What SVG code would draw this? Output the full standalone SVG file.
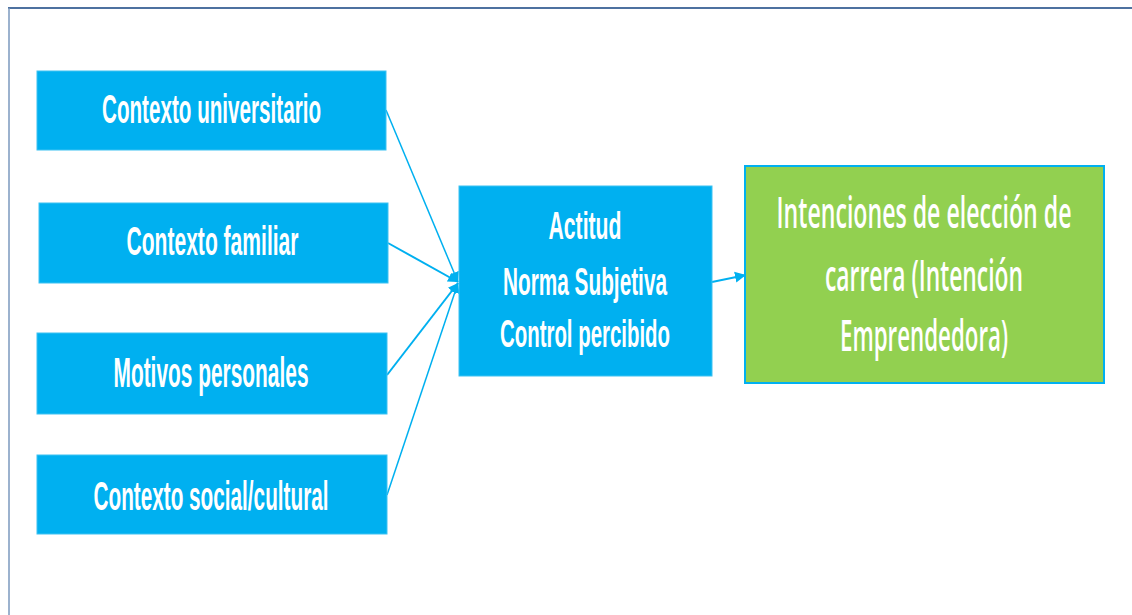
<svg xmlns="http://www.w3.org/2000/svg" width="1132" height="615" viewBox="0 0 1132 615">
<style>
.bx{fill:#00B0F0;stroke:#3DC2F2;stroke-width:1}
.gr{fill:#92D050;stroke:#00B0F0;stroke-width:2}
.t{fill:#FFFFFF;font-family:"Liberation Sans Narrow","Liberation Sans",Arial,sans-serif;font-weight:bold;text-anchor:middle}
.tg{fill:#FFFFFF;font-family:"Open Sans","Liberation Sans",Arial,sans-serif;font-weight:600;text-anchor:middle}
.c{stroke:#00B0F0;fill:none}
</style>
<defs>
<marker id="ah" viewBox="0 0 10 10" refX="10" refY="5" markerWidth="10" markerHeight="12" markerUnits="userSpaceOnUse" orient="auto">
<path d="M0,0 L10,5 L0,10 Z" fill="#00B0F0"/>
</marker>
<marker id="ah2" viewBox="0 0 10 10" refX="10" refY="5" markerWidth="11" markerHeight="15" markerUnits="userSpaceOnUse" orient="auto">
<path d="M0,0 L10,5 L0,10 Z" fill="#00B0F0"/>
</marker>
</defs>
<rect x="0" y="0" width="1132" height="615" fill="#FFFFFF"/>
<g id="frame">
<line x1="8" y1="8" x2="1132" y2="8" stroke="#4E71A0" stroke-width="2"/>
<line x1="9" y1="8" x2="9" y2="615" stroke="#7B98BE" stroke-width="1.5"/>
</g>
<g id="connectors">
<line class="c" x1="386" y1="110" x2="458" y2="282" stroke-width="1.5" marker-end="url(#ah)"/>
<line class="c" x1="388" y1="243" x2="458" y2="282" stroke-width="2" marker-end="url(#ah)"/>
<line class="c" x1="387" y1="375" x2="458" y2="283" stroke-width="2" marker-end="url(#ah)"/>
<line class="c" x1="387" y1="495" x2="458" y2="283" stroke-width="1.5" marker-end="url(#ah)"/>
<line class="c" x1="712" y1="282" x2="746" y2="275" stroke-width="2" marker-end="url(#ah2)"/>
</g>
<g id="n1">
<rect class="bx" x="37" y="71" width="349" height="79"/>
<text class="t" x="211.5" y="123" font-size="41" textLength="219" lengthAdjust="spacingAndGlyphs">Contexto universitario</text>
</g>
<g id="n2">
<rect class="bx" x="39" y="203" width="349" height="80"/>
<text class="t" x="212.5" y="255" font-size="40" textLength="172" lengthAdjust="spacingAndGlyphs">Contexto familiar</text>
</g>
<g id="n3">
<rect class="bx" x="37" y="333" width="350" height="81"/>
<text class="t" x="211" y="387" font-size="43" textLength="195" lengthAdjust="spacingAndGlyphs">Motivos personales</text>
</g>
<g id="n4">
<rect class="bx" x="37" y="455" width="350" height="79"/>
<text class="t" x="211" y="510" font-size="41" textLength="235" lengthAdjust="spacingAndGlyphs">Contexto social/cultural</text>
</g>
<g id="n5">
<rect class="bx" x="459" y="186" width="253" height="190"/>
<text class="t" x="585" y="239" font-size="39" textLength="73" lengthAdjust="spacingAndGlyphs">Actitud</text>
<text class="t" x="585" y="295" font-size="39" textLength="164" lengthAdjust="spacingAndGlyphs">Norma Subjetiva</text>
<text class="t" x="585" y="347" font-size="39" textLength="170" lengthAdjust="spacingAndGlyphs">Control percibido</text>
</g>
<g id="n6">
<rect class="gr" x="745" y="166" width="359" height="217"/>
<text class="tg" x="924" y="228" font-size="44" textLength="295" lengthAdjust="spacingAndGlyphs">Intenciones de elección de</text>
<text class="tg" x="924" y="291" font-size="44" textLength="198" lengthAdjust="spacingAndGlyphs">carrera (Intención</text>
<text class="tg" x="924" y="351" font-size="44" textLength="168" lengthAdjust="spacingAndGlyphs">Emprendedora)</text>
</g>
</svg>
